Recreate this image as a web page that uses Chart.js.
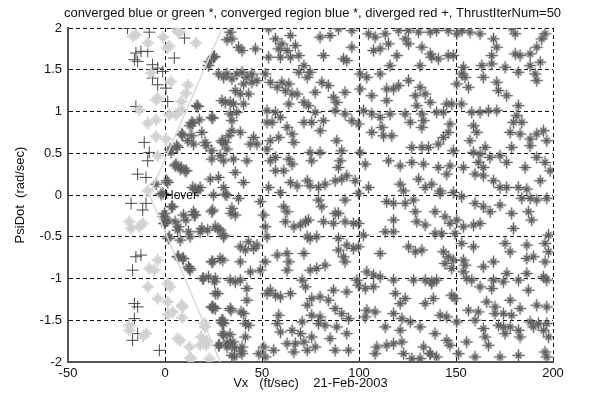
<!DOCTYPE html>
<html>
<head>
<meta charset="utf-8">
<script src="https://cdn.jsdelivr.net/npm/chart.js@4.4.1/dist/chart.umd.min.js"></script>
<style>
  html, body { margin: 0; padding: 0; background: #fff; }
  canvas { display: block; }
</style>
</head>
<body>
<canvas id="psi-chart" width="597" height="401"></canvas>
<script>
const TITLE = 'converged blue or green *, converged region blue *, diverged red +, ThrustIterNum=50';
const X_LABEL = 'Vx   (ft/sec)    21-Feb-2003';
const Y_LABEL = 'PsiDot  (rad/sec)';
const xTicks = [-50, 0, 50, 100, 150, 200];
const yTicks = [-2, -1.5, -1, -0.5, 0, 0.5, 1, 1.5, 2];
const hoverLabel = { x: 0, y: 0, text: 'Hover' };

// converged region boundary (light line)
const boundaryLine = [[29.5, 2], [-8, 0], [28.5, -2]];

// converged, blue * (dark stars)
const convergedPts = [
  [33.6,1.95],[34.5,1.87],[31.9,1.86],[37.9,1.77],[39.7,1.73],[46.6,1.75],[25,1.65],[22.4,1.55],[27.6,1.45],[30.2,1.41],
  [31.9,1.45],[34.5,1.39],[37,1.45],[39.7,1.47],[42.2,1.41],[44.8,1.45],[47.4,1.37],[44.8,1.35],[40.5,1.33],[36.2,1.25],
  [38.8,1.21],[43.1,1.21],[29.3,1.13],[31,1.11],[33.6,1.11],[35.3,1.09],[40.5,1.09],[16.4,1.07],[24.1,0.93],[33.6,0.97],
  [34.5,0.89],[37,0.99],[13.8,0.87],[12.9,0.83],[8.6,0.73],[13.8,0.71],[19,0.75],[34.5,0.77],[38.8,0.75],[32.8,0.71],
  [31,0.63],[29.3,0.65],[20.7,0.63],[14.7,0.61],[45.7,0.69],[47.4,0.61],[43.9,0.61],[2.6,0.55],[6,0.59],[24.1,0.53],
  [31.9,0.55],[28.4,0.47],[24.1,0.43],[30.2,0.41],[35.3,0.43],[42.2,0.41],[5.2,0.35],[7.8,0.31],[10.3,0.29],[0.9,0.17],
  [23.3,0.19],[27.6,0.21],[36.2,0.27],[40.5,0.15],[30.2,0.09],[15.5,0.07],[18.1,0.09],[31,0.01],
  [53.4,1.99],[56.9,1.87],[60.3,1.81],[58.6,1.75],[62.9,1.73],[64.7,1.91],[67.2,1.79],[69,1.67],[64.7,1.65],[59.5,1.65],
  [53.4,1.65],[71.6,1.55],[69,1.47],[73.3,1.41],[51.7,1.45],[54.3,1.35],[57.8,1.29],[60.3,1.35],[63.8,1.33],[62,1.25],
  [65.5,1.21],[68.1,1.21],[63.8,1.09],[71.6,1.11],[52.6,1.01],[56.9,0.99],[59.5,0.93],[55.2,0.87],[52.6,0.87],[71.6,0.87],
  [62.9,0.81],[65.5,0.73],[58.6,0.69],[54.3,0.65],[66.4,0.63],[52.6,0.55],[56.9,0.45],[54.3,0.41],[63.8,0.43],[65.5,0.37],
  [56.9,0.29],[61.2,0.29],[64.7,0.15],[68.1,0.11],[73.3,0.17],[53.4,0.09],[59.5,0.03],
  [79.9,1.89],[85.1,1.91],[89.4,1.99],[96.3,1.97],[104.9,1.93],[108.3,1.89],[113.5,1.93],[120.4,1.97],[125.5,1.97],[130.7,1.95],
  [136.7,1.95],[125.5,1.81],[123.8,1.87],[132.4,1.77],[136.7,1.69],[96.3,1.77],[81.7,1.67],[92,1.63],[93.7,1.61],[107.5,1.73],
  [110.9,1.75],[115.2,1.81],[119.5,1.67],[116,1.55],[131.5,1.55],[74.8,1.47],[80.8,1.35],[84.2,1.31],[92.8,1.23],[86.8,1.17],
  [88.5,1.11],[77.4,1.23],[100.6,1.45],[104,1.41],[100.6,1.27],[106.6,1.19],[110.9,1.45],[114.3,1.27],[117.8,1.27],[120.4,1.31],
  [125.5,1.37],[131.5,1.29],[129,1.19],[134.1,1.21],[114.3,1.13],[129.8,1.07],[136.7,1.11],[73.9,1.07],[77.4,0.99],[87.7,1.01],
  [92.8,0.97],[102.3,1.01],[106.6,0.97],[110.9,0.93],[116,0.97],[123.8,0.97],[126.4,0.87],[132.4,0.97],[133.3,0.89],[132.4,0.81],
  [75.6,0.87],[81.7,0.89],[80,0.77],[96.3,0.89],[99.7,0.85],[106.6,0.75],[111.8,0.81],[112.6,0.71],[116.9,0.71],[88.5,0.65],
  [127.2,0.57],[132.4,0.57],[135.8,0.57],[74.8,0.51],[79.9,0.51],[91.1,0.53],[100.6,0.51],[75.6,0.41],[89.4,0.33],[90.3,0.41],
  [103.2,0.37],[115.2,0.41],[121.2,0.35],[127.2,0.39],[133.3,0.37],[130.7,0.19],[93.7,0.23],[91.1,0.19],[87.7,0.17],[82.5,0.13],
  [79.1,0.09],[74.8,0.11],[98,0.17],[104.9,0.09],[121.2,0.13],[123,0.05],[134.1,0.09],
  [140,1.97],[146,1.97],[150.4,1.93],[153,1.97],[157.2,1.95],[162.4,1.93],[178.7,2],[180.5,1.93],[169.3,1.87],[171,1.77],
  [168.4,1.67],[168.4,1.57],[180.5,1.69],[183,1.67],[188.2,1.69],[191.6,1.77],[194.2,1.87],[195.9,1.93],[137.5,1.65],[140.9,1.63],
  [146,1.67],[148.6,1.67],[153.8,1.53],[152.9,1.45],[154.6,1.41],[163.3,1.55],[175.3,1.53],[182.1,1.47],[188.2,1.55],[190.8,1.45],
  [191.6,1.37],[193.4,1.59],[164.1,1.41],[171,1.35],[150.4,1.33],[156.4,1.29],[171.9,1.25],[176.1,1.19],[145.2,1.09],[147.8,1.09],
  [152.9,1.09],[140,0.99],[143.5,0.99],[158.1,0.99],[162.4,0.99],[166.7,1.01],[171,1.01],[182.1,1.07],[181.3,0.95],[183.9,0.87],
  [179.6,0.87],[146.9,0.85],[146,0.75],[159,0.83],[160.7,0.75],[177.9,0.75],[183,0.73],[188.2,0.67],[191.6,0.73],[195.1,0.77],
  [196.8,0.65],[143.5,0.69],[140.9,0.61],[157.2,0.65],[165,0.57],[178.7,0.57],[188.2,0.59],[148.6,0.53],[158.9,0.51],[162.4,0.49],
  [167.5,0.45],[172.7,0.47],[140.9,0.33],[146.9,0.35],[153.8,0.33],[161.5,0.39],[164.1,0.33],[176.1,0.39],[185.6,0.33],[191.6,0.45],
  [195.9,0.39],[198.5,0.29],[145.2,0.25],[159.8,0.25],[164.1,0.23],[169.3,0.17],[172.7,0.09],[176.1,0.09],[182.1,0.09],[186.5,0.07],
  [137.5,0.13],[141.8,0.05],[148.6,0.03],[193.4,0.17],
  [-1,0.02],[25,0],[31.9,0],[37.9,-0.04],[3.4,-0.14],[9.5,-0.24],[14.7,-0.2],[15.5,-0.24],[24.1,-0.2],[34.5,-0.16],
  [36.2,-0.24],[-0.9,-0.26],[0,-0.34],[5.2,-0.32],[6.9,-0.38],[12.1,-0.44],[18.1,-0.44],[19,-0.4],[25.9,-0.38],[28.4,-0.42],
  [30.2,-0.5],[7.8,-0.54],[1.7,-0.52],[12.9,-0.5],[38.8,-0.62],[43.1,-0.56],[41.4,-0.66],[45.7,-0.64],[47.4,-0.6],[6.9,-0.74],
  [9.5,-0.76],[12.1,-0.86],[12.9,-0.9],[24.1,-0.8],[28.4,-0.76],[38.8,-0.8],[44,-0.92],[19.8,-1],[22.4,-0.98],[25.9,-1],
  [33.6,-1.02],[36.2,-1.04],[38.8,-1.02],[49.1,-0.9],[42.2,-1.12],[25.9,-1.18],[42.2,-1.26],[24.1,-1.34],[25.9,-1.36],[33.6,-1.36],
  [40.5,-1.42],[29.3,-1.5],[30.2,-1.54],[41.4,-1.54],[43.1,-1.56],[30.2,-1.68],[41.4,-1.7],[27.6,-1.8],[33.6,-1.78],[31.9,-1.82],
  [39.7,-1.82],[34.5,-1.92],[39.7,-1.9],[48.3,-1.9],[50.9,-1.82],[51.7,-1.94],[56,-1.86],
  [61.2,-0.14],[62.9,-0.2],[62,-0.32],[66.4,-0.38],[69.8,-0.36],[72.4,-0.32],[73.3,-0.5],[52.6,-0.5],[51.7,-0.38],[49.1,-0.08],
  [50.9,-0.24],[57.8,-0.72],[62.9,-0.7],[63.8,-0.8],[62.9,-0.9],[71.6,-0.7],[51.7,-0.8],[54.3,-1.14],[52.6,-1.18],[56.9,-1.2],
  [59.5,-1.22],[64.7,-1.18],[70.7,-1.02],[72.4,-1.1],[73.3,-1.32],[57.8,-1.54],[65.5,-1.62],[59.5,-1.64],[69.8,-1.66],[67.2,-1.78],
  [62.9,-1.78],[71.6,-1.76],[66.4,-1.88],[73.3,-1.86],[58.6,-1.44],[70.7,-1.52],
  [79.1,-0.06],[80.8,-0.14],[92.8,-0.06],[99.7,0.02],[114.3,-0.08],[117.8,-0.1],[123.8,-0.1],[128.1,-0.06],[129,-0.2],[129.8,-0.32],
  [134.1,-0.36],[73.9,-0.3],[81.7,-0.32],[86.8,-0.34],[87.7,-0.22],[89.4,-0.22],[92.8,-0.32],[97.1,-0.34],[99.7,-0.34],[117.8,-0.3],
  [113.5,-0.44],[117.8,-0.44],[74.8,-0.52],[78.2,-0.5],[89.4,-0.52],[93.7,-0.6],[97.1,-0.64],[99.7,-0.62],[102.3,-0.48],[110.9,-0.7],
  [125.5,-0.62],[129,-0.68],[132.4,-0.66],[89.4,-0.66],[92,-0.74],[92.8,-0.8],[74.8,-0.9],[78.2,-0.88],[82.5,-0.84],[104,-0.92],
  [107.5,-0.96],[110.9,-0.98],[98.9,-1.02],[117.8,-1.02],[128.1,-1.02],[134.1,-1.02],[137.5,-1.04],[99.7,-1.08],[103.2,-1.12],[107.5,-1.1],
  [86.8,-1.14],[93.7,-1.16],[75.6,-1.24],[79.9,-1.22],[84.2,-1.26],[118.7,-1.18],[123.8,-1.24],[121.2,-1.3],[134.1,-1.3],[87.7,-1.36],
  [91.1,-1.42],[75.6,-1.44],[79.9,-1.46],[104,-1.38],[108.3,-1.4],[117.8,-1.42],[94.6,-1.48],[103.2,-1.46],[122.1,-1.48],[126.4,-1.52],
  [131.5,-1.58],[79.1,-1.54],[82.5,-1.56],[88.5,-1.58],[75.6,-1.7],[93.7,-1.66],[85.1,-1.72],[113.5,-1.58],[121.2,-1.62],[114.3,-1.8],
  [117.8,-1.78],[122.1,-1.76],[109.2,-1.82],[77.4,-1.82],[87.7,-1.86],[94.6,-1.86],[108.3,-1.9],[123,-1.9],[127.2,-1.96],[131.5,-1.96],
  [133.3,-1.82],[136.7,-1.9],
  [141.8,0.02],[152.9,-0.02],[159.8,-0.1],[164.1,-0.14],[167.6,-0.2],[172.7,-0.12],[178.7,-0.22],[183.9,-0.04],[188.2,-0.04],[191.6,-0.06],
  [196.8,-0.04],[187.3,-0.2],[189,-0.3],[139.2,-0.2],[144.3,-0.26],[146.9,-0.34],[150.4,-0.3],[153.8,-0.38],[159,-0.36],[162.4,-0.34],
  [179.6,-0.4],[139.2,-0.46],[142.6,-0.46],[149.5,-0.46],[152.9,-0.58],[159,-0.62],[175.3,-0.58],[177.9,-0.68],[186.5,-0.6],[197.7,-0.48],
  [195.9,-0.58],[143.5,-0.68],[146,-0.74],[148.6,-0.78],[153.8,-0.78],[154.7,-0.84],[144.3,-0.82],[147.8,-0.88],[169.3,-0.8],[164.1,-0.86],
  [186.5,-0.76],[189.9,-0.74],[195.9,-0.8],[197.7,-0.68],[153.8,-0.92],[176.2,-0.94],[186.5,-0.94],[140,-1.02],[137.5,-1.06],[155.5,-1],
  [158.1,-1.02],[169.3,-1.02],[174.4,-1.04],[182.2,-1.02],[195.1,-0.98],[196.8,-1.02],[162.4,-1.1],[168.4,-1.12],[187.3,-1.14],[138.3,-1.24],
  [147.8,-1.2],[149.5,-1.24],[165.8,-1.28],[177.9,-1.26],[191.6,-1.32],[196.8,-1.34],[170.1,-1.34],[183,-1.36],[156.4,-1.38],[161.5,-1.4],
  [170.1,-1.42],[174.4,-1.42],[178.7,-1.44],[141.8,-1.44],[145.2,-1.46],[150.4,-1.52],[159.8,-1.5],[188.2,-1.52],[192.5,-1.54],[196.8,-1.54],
  [171.9,-1.56],[174.4,-1.58],[177.9,-1.58],[182.2,-1.62],[164.1,-1.6],[175.3,-1.66],[183,-1.7],[189.9,-1.58],[195.1,-1.62],[197.7,-1.7],
  [139.2,-1.66],[145.2,-1.74],[146.9,-1.8],[155.5,-1.76],[165,-1.7],[166.7,-1.8],[151.3,-1.9],[159.8,-1.94],[172.7,-1.94],[182.2,-1.92],
  [195.9,-1.88],[196.8,-1.94],[136.6,-1.9],[140,-1.94],
  [25.5,1.66],[22.9,1.6],[16.9,1.06],[14.3,0.86],[9.1,0.72],[11.7,0.65],[6.5,0.57],[24.6,0.92],[17.7,0.9],[21.2,0.59],
  [29.8,0.63],[3.1,0.51],[5.7,0.37],[8.3,0.33],[11,0.29],[1.4,0.15],[-4.6,0.13],[16.9,0.05],[14.3,0.09],[-2.1,0.01],
  [-0.3,-0.22],[1.4,-0.3],[3.9,-0.14],[-0.3,-0.34],[2.2,-0.5],[6.5,-0.42],[6.5,-0.74],[9.1,-0.76],[12.6,-0.88],[19.4,-1],
  [25.5,-1.04],[27.2,-1.18],[24.6,-1.34],[29.8,-1.5],[34,-1.38],[29.8,-1.66],[28,-1.8],[35,-1.76],[35.8,-1.94],[24.6,-0.8],
  [29.8,-0.78],[10.8,-0.3],[15.1,-0.24],[24.6,-0.18],[34,-0.22],[22,-0.42],[27.2,-0.4],[30.3,-0.48],
  [24.7,-1.35],[29.4,-1.53],[33.5,-1.67],[32,-1.77],[35.8,-1.83],[39.2,-1.87],[39.2,-1.4]
];

// converged, green * (light stars)
const greenPts = [
  [-15,1.92],[-8.9,1.82],[2.2,1.78],[6.5,1.96],[16,1.82],[-7.2,1.46],[3.1,1.36],[11.7,1.32],[10.8,1.22],[-3.8,1.16],
  [-4.6,1.14],[8.3,1.12],[-13.2,1.02],[2.2,0.96],[5.7,0.96],[-8.9,0.86],[-4.6,0.9],[-4.6,0.7],[0.5,0.67],[-3.8,0.47],
  [-8.9,0.05],[8.3,1.02],[-1,1.89],[7.7,1.95],[1,1.76],[-16.5,1.9],
  [-18.4,-0.32],[-13.2,-0.38],[-17.5,-0.4],[-3.8,-0.78],[-8.1,-0.88],[-5.5,-0.9],[-8.9,-1.1],[1.4,-1.06],[-3.8,-1.24],[1.4,-1.28],
  [9.1,-1.34],[4,-1.4],[6.5,-1.72],[12.6,-1.82],[-18.4,-1.56],[-18.4,-1.62],[-9.8,-1.66],[20.3,-1.54],[13.4,-1.96],[22.9,-1.96],
  [21.2,-1.8],[18.6,-1.7],[-11.5,-0.34],[8.8,-1.47],[1.5,-1.43],[-11.3,-1.69],[21.6,-1.75],[12.9,-1.95],[2.6,-1.1],[8.6,-1.32],
  [7.8,-1.74],[18.1,-1.8],[20.7,-1.58]
];

// diverged, red +
const divergedPts = [
  [-19.3,2],[-8.1,1.95],[4.8,2],[10,1.88],[-15,1.7],[-12.4,1.72],[-8.9,1.72],[-15.8,1.62],[-14.1,1.6],[4.8,1.64],
  [-6.4,1.56],[-3.8,1.52],[-1.2,1.48],[-6.4,1.4],[-3.8,1.32],[0.5,1.28],[1.4,1.12],[-15,1.06],[-10.7,0.63],[-8.1,0.51],
  [-8.9,0.41],[-14.1,0.25],[-9.8,0.21],
  [-17.5,-0.1],[-9.8,-0.1],[-11.5,-0.18],[-15,-0.74],[-12.4,-0.72],[-16.7,-0.9],[-15.8,-1.3],[-14.1,-1.34],[-15.8,-1.48],
  [-14.1,-1.66],[-16.7,-1.74],[-2.9,-1.86]
];

const FONT = '"Liberation Sans", Arial, Helvetica, sans-serif';
const toXY = pts => pts.map(p => ({ x: p[0], y: p[1] }));

// blurred-looking MATLAB '*' marker: long plus arms, short diagonals
function starMarker(color, armLen, diagLen, width) {
  const size = armLen * 2 + 4;
  const c = document.createElement('canvas');
  c.width = size; c.height = size;
  const g = c.getContext('2d');
  const m = size / 2;
  g.strokeStyle = color;
  g.lineCap = 'round';
  g.lineWidth = width;
  g.beginPath();
  g.moveTo(m - armLen, m); g.lineTo(m + armLen, m);
  g.moveTo(m, m - armLen); g.lineTo(m, m + armLen);
  g.stroke();
  g.lineWidth = width * 1.1;
  g.beginPath();
  g.moveTo(m - diagLen, m - diagLen); g.lineTo(m + diagLen, m + diagLen);
  g.moveTo(m - diagLen, m + diagLen); g.lineTo(m + diagLen, m - diagLen);
  g.stroke();
  return c;
}

const darkStar = starMarker('#606060', 5.5, 2.5, 1.5);
const lightStar = starMarker('#d2d2d2', 5, 2.4, 2.3);

const textPlugin = {
  id: 'matlabText',
  afterDraw(chart) {
    const { ctx, chartArea, scales } = chart;
    const cx = (chartArea.left + chartArea.right) / 2;
    const cy = (chartArea.top + chartArea.bottom) / 2;
    ctx.save();
    ctx.fillStyle = '#111';
    ctx.font = '13px ' + FONT;
    ctx.textAlign = 'center';
    ctx.textBaseline = 'middle';
    ctx.fillText(TITLE, cx + 2, 13);
    ctx.fillText(X_LABEL, cx, 383);

    ctx.translate(20, cy);
    ctx.rotate(-Math.PI / 2);
    ctx.fillText(Y_LABEL, 0, 0);
    ctx.restore();

    ctx.save();
    ctx.fillStyle = '#111';
    ctx.font = '12px ' + FONT;
    ctx.textAlign = 'left';
    ctx.textBaseline = 'middle';
    ctx.fillText(hoverLabel.text,
      scales.x.getPixelForValue(hoverLabel.x),
      scales.y.getPixelForValue(hoverLabel.y) + 1);
    ctx.restore();
  }
};

new Chart(document.getElementById('psi-chart'), {
  type: 'scatter',
  data: {
    datasets: [
      {
        data: toXY(boundaryLine),
        showLine: true,
        borderColor: '#d9d9d9',
        borderWidth: 1.5,
        pointRadius: 0,
        fill: false
      },
      {
        data: toXY(greenPts),
        pointStyle: lightStar,
        pointRadius: 5
      },
      {
        data: toXY(divergedPts),
        pointStyle: 'cross',
        pointRadius: 6,
        borderWidth: 1,
        borderColor: '#4a4a4a'
      },
      {
        data: toXY(convergedPts),
        pointStyle: darkStar,
        pointRadius: 5
      }
    ]
  },
  options: {
    responsive: false,
    animation: false,
    events: [],
    layout: { padding: { top: 28, right: 44, left: 0, bottom: 0 } },
    plugins: {
      legend: { display: false },
      tooltip: { enabled: false },
      title: { display: false }
    },
    scales: {
      x: {
        type: 'linear',
        min: -50,
        max: 200,
        afterFit: s => { s.height = 39; },
        afterBuildTicks: s => { s.ticks = xTicks.map(v => ({ value: v })); },
        ticks: { padding: 4, color: '#111', font: { size: 13, family: FONT }, maxRotation: 0,
                 callback: v => String(v) },
        grid: { color: '#111', lineWidth: 1, drawTicks: false },
        border: { display: true, color: '#555', width: 2, dash: [4, 3] }
      },
      y: {
        type: 'linear',
        min: -2,
        max: 2,
        afterFit: s => { s.width = 68; },
        afterBuildTicks: s => { s.ticks = yTicks.map(v => ({ value: v })); },
        ticks: { padding: 6, color: '#111', font: { size: 13, family: FONT },
                 callback: v => String(v) },
        grid: { color: '#111', lineWidth: 1, drawTicks: false },
        border: { display: true, color: '#555', width: 2, dash: [4, 3] }
      }
    }
  },
  plugins: [textPlugin]
});
</script>
</body>
</html>
